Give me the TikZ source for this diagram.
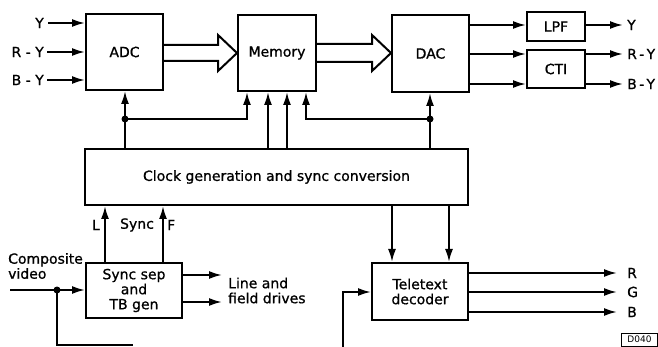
\documentclass[tikz,border=0pt]{standalone}
\usepackage{fontspec}
\setmainfont{DejaVu Sans}[BoldFont={DejaVu Sans},BoldFeatures={FakeBold=0.9}]
\usetikzlibrary{arrows.meta,calc}
\tikzset{
  lw/.style={line width=2pt},
  tfont/.style={font=\fontsize{14}{15}\selectfont\bfseries},
  blk/.style={draw,lw,rectangle,inner sep=0pt,align=center,tfont},
  arr/.style={lw,-{Latex[length=13pt,width=8pt]}},
  conn/.style={lw},
  hollow/.style={lw,line join=miter},
  lbl/.style={inner sep=0pt,tfont,align=left},
  jdot/.style={circle,fill,inner sep=0pt,minimum size=7pt}
}
\begin{document}
\begin{tikzpicture}[x=1pt,y=-1pt]
\useasboundingbox (0,0) rectangle (658,347);
% blocks
\node[blk,minimum width=77pt,minimum height=76pt] (adc) at (124.5,52) {ADC};
\node[blk,minimum width=78pt,minimum height=76pt] (mem) at (277,53) {Memory};
\node[blk,minimum width=77pt,minimum height=77pt] (dac) at (430.5,53.5) {DAC};
\node[blk,minimum width=58pt,minimum height=29pt] (lpf) at (556,26.5) {LPF};
\node[blk,minimum width=58pt,minimum height=38pt] (cti) at (556,69) {CTI};
\node[blk,minimum width=383pt,minimum height=56pt] (clk) at (276.5,177) {Clock generation and sync conversion};
\node[blk,minimum width=96pt,minimum height=55pt] (sync) at (134,290.5) {Sync sep\\and\\TB gen};
\node[blk,minimum width=96pt,minimum height=57pt] (tt) at (420,291.5) {Teletext\\decoder};
% inputs to ADC
\coordinate (iY) at (48,23);
\coordinate (iR) at (47,52);
\coordinate (iB) at (47,80);
\draw[arr] (iY) -- (iY -| adc.west);
\draw[arr] (iR) -- (iR -| adc.west);
\draw[arr] (iB) -- (iB -| adc.west);
\node[lbl,anchor=east] (tY) at (44,23) {Y};
\node[lbl,anchor=east] (tR) at (44,52) {R - Y};
\node[lbl,anchor=east] (tB) at (44,80) {B - Y};
% hollow bus arrows
\draw[hollow] (adc.east |- 0,45) -- (218,45) -- (218,35) -- (mem.west |- 0,53) -- (218,71) -- (218,61) -- (adc.east |- 0,61);
\draw[hollow] (mem.east |- 0,44) -- (372,44) -- (372,35) -- (dac.west |- 0,53) -- (372,71) -- (372,62) -- (mem.east |- 0,62);
% DAC outputs
\draw[arr] (dac.east |- 0,25) -- (lpf.west |- 0,25);
\draw[arr] (dac.east |- 0,54) -- (cti.west |- 0,54);
\draw[arr] (dac.east |- 0,84) -- (cti.west |- 0,84);
\coordinate (oY) at (623,25);
\coordinate (oR) at (623,54);
\coordinate (oB) at (623,84);
\draw[arr] (lpf.east |- oY) -- (oY);
\draw[arr] (cti.east |- oR) -- (oR);
\draw[arr] (cti.east |- oB) -- (oB);
\node[lbl,anchor=west] (toY) at (627,25) {Y};
\node[lbl,anchor=west] (toR) at (627,54) {R\,-\,Y};
\node[lbl,anchor=west] (toB) at (627,84) {B\,-\,Y};
% clock distribution
\coordinate (j1) at (125,119);
\coordinate (m1) at (247,119);
\coordinate (j2) at (430,119);
\coordinate (m4) at (306,119);
\draw[arr] (clk.north -| j1) -- (adc.south -| j1);
\draw[arr] (j1) -- (m1) -- (m1 |- mem.south);
\draw[arr] (clk.north -| 268,0) -- (mem.south -| 268,0);
\draw[arr] (clk.north -| 287,0) -- (mem.south -| 287,0);
\draw[arr] (clk.north -| j2) -- (dac.south -| j2);
\draw[arr] (j2) -- (m4) -- (m4 |- mem.south);
\node[jdot] (d1) at (j1) {};
\node[jdot] (d2) at (j2) {};
% sync sep to clock
\draw[arr] (sync.north -| 105,0) -- (clk.south -| 105,0);
\draw[arr] (sync.north -| 163,0) -- (clk.south -| 163,0);
\node[lbl,anchor=east] (tL) at (100,225) {L};
\node[lbl] (tS) at (137,225) {Sync};
\node[lbl,anchor=west] (tF) at (167,225) {F};
% clock to teletext
\draw[arr] (clk.south -| 392,0) -- (tt.north -| 392,0);
\draw[arr] (clk.south -| 449,0) -- (tt.north -| 449,0);
% composite video
\coordinate (cv) at (10,290);
\coordinate (j3) at (57,290);
\coordinate (cvb) at (57,345);
\coordinate (cve) at (133,345);
\draw[arr] (cv) -- (cv -| sync.west);
\draw[conn] (j3) -- (cvb) -- (cve);
\node[jdot] (d3) at (j3) {};
\node[lbl,anchor=west] (tcv) at (8,266) {Composite\\video};
% sync outputs
\coordinate (s1) at (222,275);
\coordinate (s2) at (222,302);
\draw[arr] (sync.east |- s1) -- (s1);
\draw[arr] (sync.east |- s2) -- (s2);
\node[lbl,anchor=west] (tld) at (228,290.5) {Line and\\field drives};
% teletext input
\coordinate (ti0) at (343,350);
\coordinate (ti1) at (343,292);
\draw[arr] (ti0) -- (ti1) -- (ti1 -| tt.west);
% RGB outputs
\coordinate (oRr) at (617,273);
\coordinate (oG) at (617,292);
\coordinate (oBb) at (617,312);
\draw[arr] (tt.east |- oRr) -- (oRr);
\draw[arr] (tt.east |- oG) -- (oG);
\draw[arr] (tt.east |- oBb) -- (oBb);
\node[lbl,anchor=west] (tRr) at (627,273) {R};
\node[lbl,anchor=west] (tG) at (627,292) {G};
\node[lbl,anchor=west] (tBb) at (627,312) {B};
% figure code
\node[draw,line width=1pt,inner sep=1pt,font=\fontsize{9}{10}\selectfont,minimum width=36pt,minimum height=13pt,anchor=north west] (code) at (621,332.5) {D040};
\end{tikzpicture}
\end{document}
